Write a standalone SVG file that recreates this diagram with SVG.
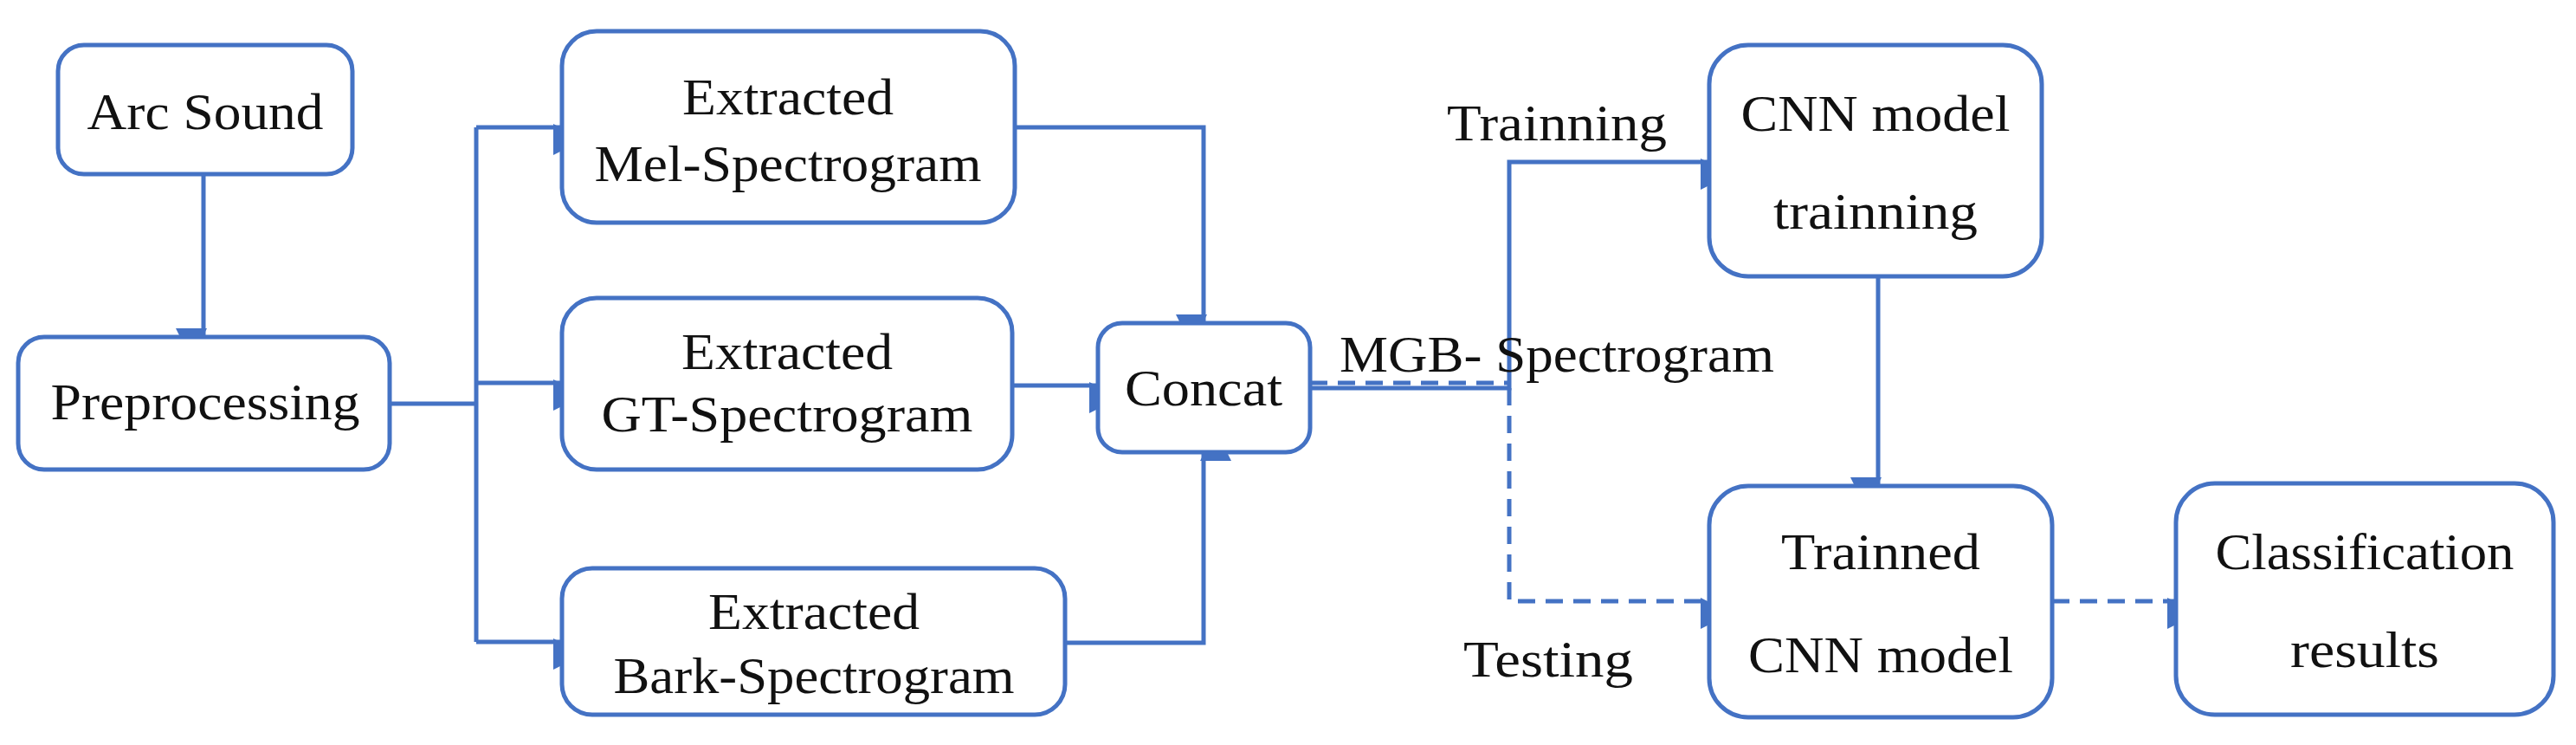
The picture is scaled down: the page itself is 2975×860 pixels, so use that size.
<svg xmlns="http://www.w3.org/2000/svg" width="2975" height="860" viewBox="0 0 2975 860">
<style>
.n{fill:#fff;stroke:#4472C4;stroke-width:5}
.t{font-family:"Liberation Serif",serif;font-size:60px;fill:#111;text-anchor:middle}
.c{fill:none;stroke:#4472C4;stroke-width:5}
.d{stroke-dasharray:20,12}
</style>
<defs><marker id="a" viewBox="0 0 10 10" refX="10" refY="5" markerWidth="8" markerHeight="8" markerUnits="userSpaceOnUse" orient="auto" style="overflow:visible"><path d="M0,0L10,5L0,10Z" fill="#4472C4" transform="scale(4.5)" /></marker></defs>
<g id="connectors">
<line class="c" x1="235" y1="201" x2="235" y2="387" marker-end="url(#a)"/>
<path class="c" d="M450,466H550" stroke-width="8"/>
<path class="c" d="M550,147V741"/>
<line class="c" x1="550" y1="147" x2="647" y2="147" marker-end="url(#a)"/>
<line class="c" x1="550" y1="442" x2="647" y2="442" marker-end="url(#a)"/>
<line class="c" x1="550" y1="741" x2="647" y2="741" marker-end="url(#a)"/>
<path class="c" d="M1172,147H1390V371" marker-end="url(#a)"/>
<path class="c" d="M1230,742H1390V524" marker-end="url(#a)"/>
<line class="c" x1="1169" y1="445" x2="1266" y2="445" marker-end="url(#a)"/>
<path class="c" d="M1513,448H1743V187H1972" marker-end="url(#a)"/>
<path class="c d" d="M1513,442H1743"/>
<path class="c d" d="M1743,448V694H1972" marker-end="url(#a)"/>
<line class="c" x1="2169" y1="319" x2="2169" y2="559" marker-end="url(#a)"/>
<line class="c d" x1="2370" y1="694" x2="2511" y2="694" marker-end="url(#a)"/>
</g>
<g id="arc"><rect class="n" x="67" y="52" width="340" height="149" rx="30"/><text class="t" x="237" y="149" textLength="273" lengthAdjust="spacingAndGlyphs">Arc Sound</text></g>
<g id="pre"><rect class="n" x="21" y="389" width="429" height="153" rx="30"/><text class="t" x="237" y="484" textLength="357" lengthAdjust="spacingAndGlyphs">Preprocessing</text></g>
<g id="mel"><rect class="n" x="649" y="36" width="523" height="221" rx="40"/><text class="t" x="910" y="132" textLength="244" lengthAdjust="spacingAndGlyphs">Extracted</text><text class="t" x="910" y="209" textLength="447" lengthAdjust="spacingAndGlyphs">Mel-Spectrogram</text></g>
<g id="gt"><rect class="n" x="649" y="344" width="520" height="198" rx="40"/><text class="t" x="909" y="426" textLength="244" lengthAdjust="spacingAndGlyphs">Extracted</text><text class="t" x="909" y="498" textLength="429" lengthAdjust="spacingAndGlyphs">GT-Spectrogram</text></g>
<g id="bark"><rect class="n" x="649" y="656" width="581" height="169" rx="35"/><text class="t" x="940" y="726" textLength="244" lengthAdjust="spacingAndGlyphs">Extracted</text><text class="t" x="940" y="800" textLength="463" lengthAdjust="spacingAndGlyphs">Bark-Spectrogram</text></g>
<g id="concat"><rect class="n" x="1268" y="373" width="245" height="149" rx="28"/><text class="t" x="1390" y="468" textLength="182" lengthAdjust="spacingAndGlyphs">Concat</text></g>
<g id="cnnt"><rect class="n" x="1974" y="52" width="384" height="267" rx="45"/><text class="t" x="2166" y="151" textLength="311" lengthAdjust="spacingAndGlyphs">CNN model</text><text class="t" x="2166" y="264" textLength="236" lengthAdjust="spacingAndGlyphs">trainning</text></g>
<g id="trained"><rect class="n" x="1974" y="561" width="396" height="267" rx="45"/><text class="t" x="2172" y="657" textLength="230" lengthAdjust="spacingAndGlyphs">Trainned</text><text class="t" x="2172" y="776" textLength="306" lengthAdjust="spacingAndGlyphs">CNN model</text></g>
<g id="cls"><rect class="n" x="2513" y="558" width="436" height="267" rx="45"/><text class="t" x="2731" y="657" textLength="345" lengthAdjust="spacingAndGlyphs">Classification</text><text class="t" x="2731" y="770" textLength="172" lengthAdjust="spacingAndGlyphs">results</text></g>
<g id="labels">
<text class="t" x="1798" y="162" textLength="254" lengthAdjust="spacingAndGlyphs">Trainning</text>
<text class="t" x="1798" y="429" textLength="502" lengthAdjust="spacingAndGlyphs">MGB- Spectrogram</text>
<text class="t" x="1788" y="781" textLength="196" lengthAdjust="spacingAndGlyphs">Testing</text>
</g>
</svg>
